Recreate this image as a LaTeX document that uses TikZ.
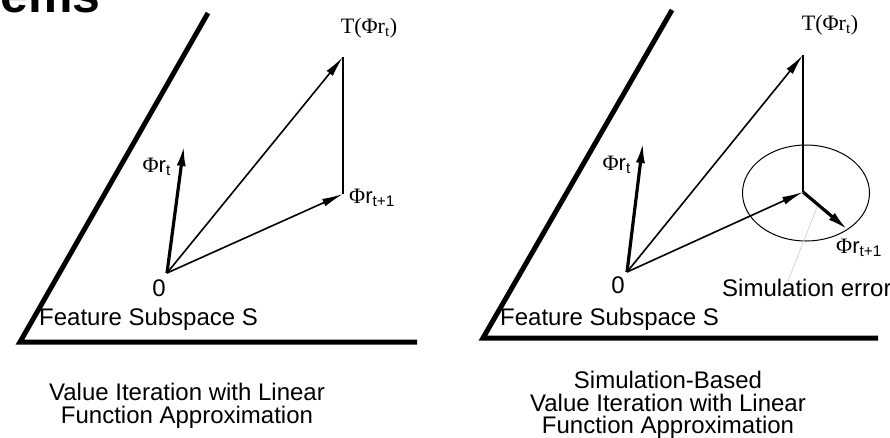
\documentclass[tikz,border=0pt]{standalone}
\usepackage{fontspec}
\setmainfont{Liberation Serif}
\setsansfont{Liberation Sans}
\usetikzlibrary{arrows.meta}

\begin{document}
\begin{tikzpicture}[
  x=1pt, y=-1pt,
  subspace/.style={line width=5pt},
  vecthick/.style={line width=3.2pt, -{Latex[length=21pt,width=9pt]}},
  vecthin/.style={line width=1.6pt, -{Latex[length=21pt,width=8pt]}},
  plainline/.style={line width=1.5pt},
  lbl/.style={font=\sffamily\fontsize{24}{26}\selectfont, inner sep=0pt},
  caption/.style={lbl, align=center, font=\sffamily\fontsize{24}{22.5}\selectfont},
  veclabel/.style={font=\fontsize{22}{24}\selectfont, inner sep=0pt},
  leader/.style={draw=gray!35, line width=0.7pt}
]
  \useasboundingbox (0,0) rectangle (890,437);
  \clip (0,0) rectangle (890,437);

  % --- cut-off slide title ---
  \node[font=\sffamily\bfseries\fontsize{50}{52}\selectfont, anchor=base east,
        inner sep=0pt] (title) at (101,12) {ems};

  % --- Left panel: exact value iteration ---
  \coordinate (Ltop) at (208,13);
  \coordinate (Lcorner) at (20,342);
  \coordinate (Lend) at (417,342);
  \draw[subspace] (Ltop) -- (Lcorner) -- (Lend);

  \coordinate (Lo) at (167,273);
  \coordinate (Lphi) at (184,145);
  \coordinate (LT) at (343,57);
  \coordinate (Lnext) at (343,194);
  \draw[vecthick] (Lo) -- (Lphi);
  \draw[vecthin] (Lo) -- (LT);
  \draw[vecthin] (Lo) -- (Lnext);
  \draw[plainline] (LT) -- (Lnext);

  \node[lbl, anchor=north] (Lzero) at (159,280) {0};
  \node[veclabel, anchor=east] (Lphilbl) at (171,167) {Φ{\sffamily r\textsubscript{t}}};
  \node[veclabel, anchor=south] (LTlbl) at (369,38) {T(Φr\textsubscript{t})};
  \node[veclabel, anchor=west] (Lnextlbl) at (349,198) {Φ{\sffamily r\textsubscript{t+1}}};
  \node[lbl, anchor=west] (Lsub) at (39,319) {Feature Subspace S};
  \node[caption] (Lcap) at (187,406) {Value Iteration with Linear\\Function Approximation};

  % --- Right panel: simulation-based value iteration ---
  \coordinate (Rtop) at (672,10);
  \coordinate (Rcorner) at (483,338);
  \coordinate (Rend) at (878,338);
  \draw[subspace] (Rtop) -- (Rcorner) -- (Rend);

  \coordinate (Ro) at (627,272);
  \coordinate (Rphi) at (643,142);
  \coordinate (RT) at (803,55);
  \coordinate (Rmid) at (803,192);
  \coordinate (Rnext) at (848,230);
  \draw[line width=1pt] (806,193) ellipse [x radius=63.5, y radius=48];
  \draw[vecthick] (Ro) -- (Rphi);
  \draw[vecthin] (Ro) -- (RT);
  \draw[vecthin] (Ro) -- (Rmid);
  \draw[plainline] (RT) -- (Rmid);
  \draw[vecthick] (Rmid) -- (Rnext);

  \node[lbl, anchor=north] (Rzero) at (618,277) {0};
  \node[veclabel, anchor=east] (Rphilbl) at (631,165) {Φ{\sffamily r\textsubscript{t}}};
  \node[veclabel, anchor=south] (RTlbl) at (830,35) {T(Φr\textsubscript{t})};
  \node[veclabel, anchor=west] (Rnextlbl) at (836,248) {Φ{\sffamily r\textsubscript{t+1}}};
  \node[lbl, anchor=west] (Rerr) at (722,288) {Simulation error};
  \coordinate (Rpoint) at (817,207);
  \draw[leader] (Rpoint) -- ([xshift=66pt,yshift=-2pt]Rerr.north west);
  \node[lbl, anchor=west] (Rsub) at (500,319) {Feature Subspace S};
  \node[caption] (Rcap) at (668,405) {Simulation-Based\\Value Iteration with Linear\\Function Approximation};
\end{tikzpicture}
\end{document}
